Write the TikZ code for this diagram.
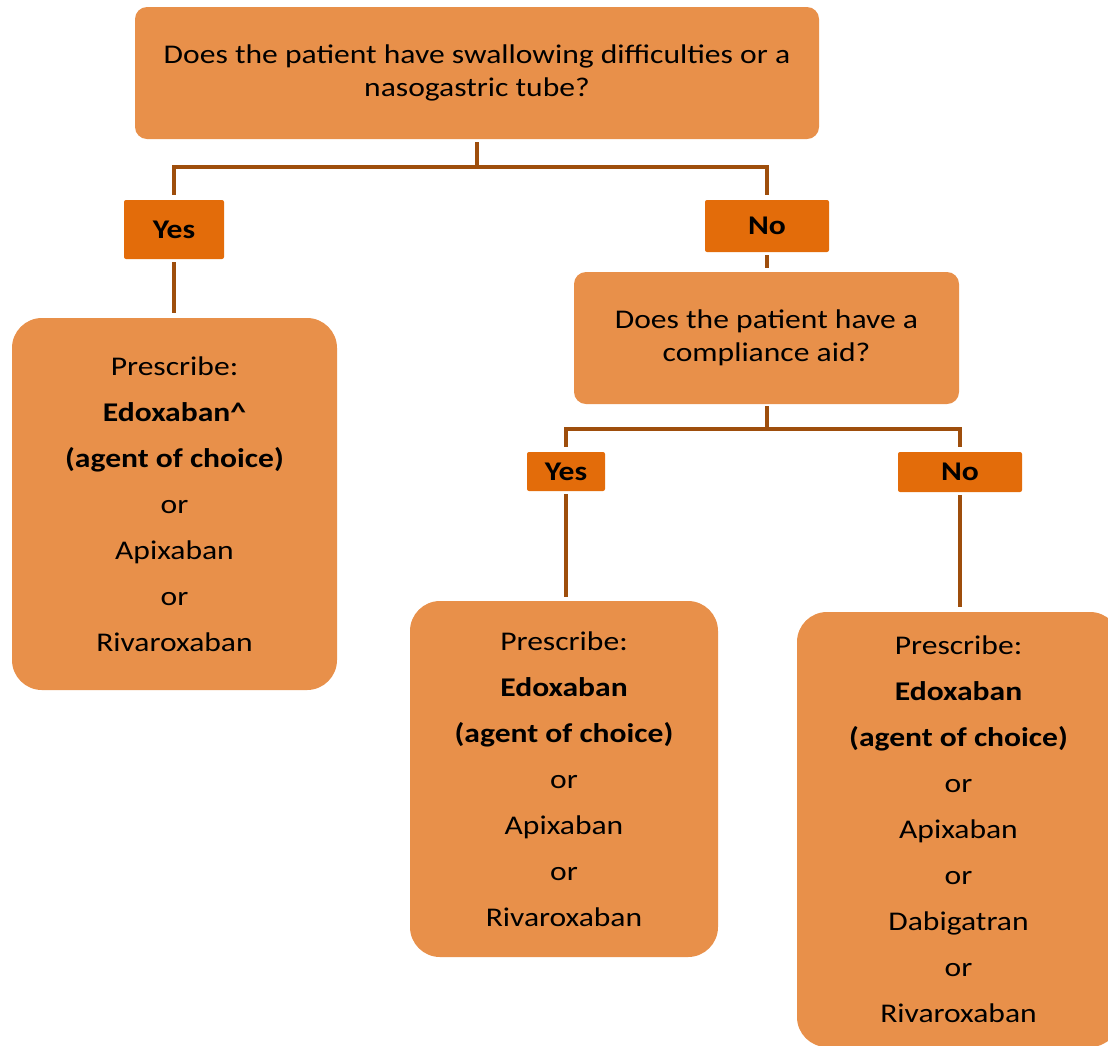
\documentclass[tikz,border=0pt]{standalone}
\usepackage{fontspec}
\setmainfont{Carlito}[FakeStretch=1.17]
\definecolor{boxfill}{HTML}{E8904A}
\definecolor{labfill}{HTML}{E36C0A}
\definecolor{conncol}{HTML}{9E4E0C}
\tikzset{
  qbox/.style={fill=boxfill, rounded corners=12pt, align=center, inner sep=0pt,
    font=\fontsize{27}{33}\selectfont},
  pbox/.style={fill=boxfill, rounded corners=30pt, align=center, inner sep=0pt,
    font=\fontsize{27}{46}\selectfont},
  lab/.style={fill=labfill, rounded corners=2pt, inner sep=0pt,
    font=\fontsize{27}{33}\selectfont\bfseries},
  conn/.style={draw=conncol, line width=4pt},
}
\begin{document}
\begin{tikzpicture}[x=1pt,y=-1pt]
\path[use as bounding box, clip] (0,0) rectangle (1108,1045);
\node[qbox, minimum width=684pt, minimum height=132pt] (top) at (477,73)
  {Does the patient have swallowing difficulties or a\\nasogastric tube?};
\node[lab, minimum width=100pt, minimum height=59pt] (yes1) at (174,229.5) {Yes};
\node[lab, minimum width=124pt, minimum height=52pt] (no1) at (767,226) {No};
\node[pbox, minimum width=325pt, minimum height=372pt] (left) at (174.5,504)
  {Prescribe:\\\textbf{Edoxaban\textasciicircum}\\\textbf{(agent of choice)}\\or\\Apixaban\\or\\Rivaroxaban};
\node[qbox, minimum width=385pt, minimum height=132pt] (q2) at (766.5,338)
  {Does the patient have a\\compliance aid?};
\node[lab, minimum width=78pt, minimum height=39pt] (yes2) at (566,471.5) {Yes};
\node[lab, minimum width=124pt, minimum height=40pt] (no2) at (960,472) {No};
\node[pbox, minimum width=308pt, minimum height=356pt] (mid) at (564,779)
  {Prescribe:\\\textbf{Edoxaban}\\\textbf{(agent of choice)}\\or\\Apixaban\\or\\Rivaroxaban};
\node[pbox, minimum width=323pt, minimum height=435pt] (right) at (958.5,829.5)
  {Prescribe:\\\textbf{Edoxaban}\\\textbf{(agent of choice)}\\or\\Apixaban\\or\\Dabigatran\\or\\Rivaroxaban};
\draw[conn, shorten <=3pt, shorten >=5pt] (top.south) -- ++(0,28) -| (yes1.north);
\draw[conn, shorten <=3pt, shorten >=5pt] (top.south) -- ++(0,28) -| (no1.north);
\draw[conn, shorten <=3pt, shorten >=5pt] (yes1.south) -- (yes1.south |- left.north);
\draw[conn, shorten <=3pt, shorten >=4pt] (no1.south) -- (no1.south |- q2.north);
\draw[conn, shorten <=2pt, shorten >=5pt] (q2.south) -- ++(0,25) -| (yes2.north);
\draw[conn, shorten <=2pt, shorten >=5pt] (q2.south) -- ++(0,25) -| (no2.north);
\draw[conn, shorten <=3pt, shorten >=4pt] (yes2.south) -- (yes2.south |- mid.north);
\draw[conn, shorten <=3pt, shorten >=5pt] (no2.south) -- (no2.south |- right.north);
\end{tikzpicture}
\end{document}
